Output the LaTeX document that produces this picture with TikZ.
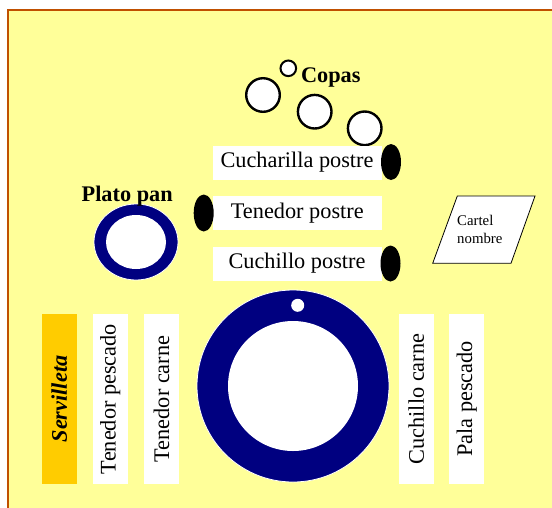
\documentclass[tikz,border=0pt]{standalone}
\usepackage{fontspec}
\setmainfont{Liberation Serif}
\definecolor{mantel}{RGB}{255,255,153}
\definecolor{borde}{RGB}{192,80,0}
\definecolor{azulplato}{RGB}{0,0,128}
\definecolor{amarservi}{RGB}{255,204,0}
\tikzset{
  cubierto/.style={fill=white, inner sep=0pt, minimum width=169pt, minimum height=34pt,
    font=\fontsize{22.3}{26}\selectfont},
  cubiertov/.style={cubierto, rotate=90, minimum width=170pt, minimum height=35pt},
  copa/.style={draw=black, fill=white, line width=2.4pt},
  mango/.style={fill=black},
  rotulo/.style={font=\bfseries\fontsize{22.3}{26}\selectfont, inner sep=0pt, anchor=base},
}

\begin{document}
\begin{tikzpicture}[x=1pt, y=-1pt]
  \def\rcopa{16.8}
  \coordinate (plato) at (293, 386);
  \coordinate (pan) at (136, 242);
  \useasboundingbox (0,0) rectangle (552,507);
  \fill[white] (0,0) rectangle (552,507);
  \draw[borde, line width=1.2pt, fill=mantel] (8,10) rectangle (570,530);
  % copas
  \draw[copa, line width=2pt] (288.3, 68.3) circle (7.8);
  \draw[copa] (263, 95) circle (\rcopa);
  \draw[copa] (314.7, 111.7) circle (\rcopa);
  \draw[copa] (364.7, 128.3) circle (\rcopa);
  \node[rotulo] (copas) at (330.8, 82.3) {Copas};
  % postre
  \node[cubierto] (cucharilla) at (297, 162.5) {Cucharilla postre};
  \node[cubierto] (tenpostre) at (297.3, 213) {Tenedor postre};
  \node[cubierto] (cuchpostre) at (297, 263.5) {Cuchillo postre};
  \fill[mango] (391, 162) ellipse (10 and 18);
  \fill[mango] (203.7, 213) ellipse (10 and 18.5);
  \fill[mango] (390.5, 263.5) ellipse (10 and 18);
  % plato pan
  \filldraw[fill=azulplato, draw=white, line width=0.8pt] (pan) ellipse (42 and 38);
  \fill[white] (pan) ellipse (30 and 27);
  \node[rotulo] (platopan) at (127.2, 201.7) {Plato pan};
  % cartel
  \draw[fill=white, line width=0.8pt] (457.3,196) -- (535,196) -- (511,263.3) -- (432.7,263.3) -- cycle;
  \node[font=\fontsize{14.8}{17.3}\selectfont, align=left, anchor=west, inner sep=0pt]
    (cartel) at (457, 229.3) {Cartel\\nombre};
  % plato
  \filldraw[fill=azulplato, draw=white, line width=0.8pt] (plato) circle (96);
  \fill[white] (plato) circle (65);
  \fill[white] (297.7, 305.3) circle (6.5);
  % cubiertos laterales
  \node[cubiertov, fill=amarservi, font=\bfseries\itshape\fontsize{22.3}{26}\selectfont]
    (servilleta) at (59.2, 399) {Servilleta};
  \node[cubiertov] (tenpescado) at (110.2, 399) {Tenedor pescado};
  \node[cubiertov] (tencarne) at (161.5, 399) {Tenedor carne};
  \node[cubiertov] (cuchcarne) at (416.2, 399) {Cuchillo carne};
  \node[cubiertov] (palapescado) at (466.7, 399) {Pala pescado};
\end{tikzpicture}
\end{document}
